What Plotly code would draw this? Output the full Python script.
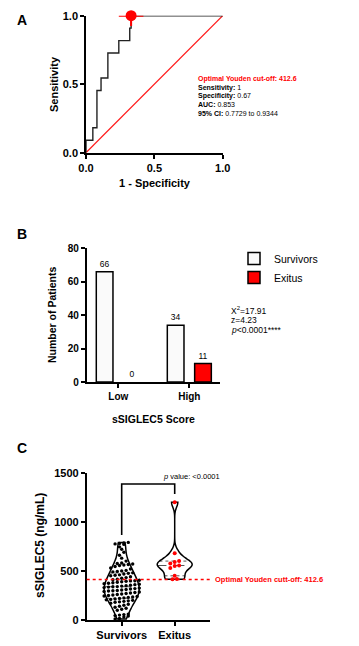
import numpy as np
import plotly.graph_objects as go

W, H = 359, 646
FONT = "Liberation Sans, Arial, sans-serif"


def px(x):
    return x / W


def py(y):
    return 1 - y / H


# ---------------- Panel A data (ROC) ----------------
roc_fpr = [0, 0, 0.05, 0.08, 0.11, 0.16, 0.24, 0.32, 0.33, 1.0]
roc_tpr = [0, 1 / 11, 2 / 11, 5 / 11, 6 / 11, 8 / 11, 9 / 11, 10 / 11, 1.0, 1.0]
chance_line = [0, 1]
youden_fpr = [0.33]
youden_tpr = [1.0]
roc_ticks = [0, 0.5, 1.0]
youden_cutoff = 412.6
sens_value = "1"
spec_value = "0.67"
auc_value = "0.853"
ci_low, ci_high = "0.7729", "0.9344"

# ---------------- Panel B data (bars) ----------------
score_cats = ["Low", "High"]
survivors_counts = [66, 34]
exitus_counts = [0, 11]
count_ticks = [0, 20, 40, 60, 80]
chi2_value = "17.91"
z_value = "4.23"
p_value_b = "&lt;0.0001****"

# ---------------- Panel C data (violins) ----------------
groups = ["Survivors", "Exitus"]
survivors_vals = [
    790, 785, 780, 775, 770,
    745, 720, 690, 660,
    630, 600, 580, 575, 570, 565, 560, 555,
    545, 530, 520, 505, 500, 495, 490, 480,
    475, 468, 460, 455, 450, 440, 432, 425,
    415,
    410, 405, 400, 398, 395, 390, 385, 380, 375, 370, 365, 360, 355, 350, 345, 340, 338, 335, 330,
    325, 320, 315, 310, 305, 300, 298, 295, 290, 285, 280, 275, 270, 265, 260, 255, 250,
    245, 240, 235, 230, 225, 220, 215, 210, 205, 200, 195, 190, 185, 180,
    170, 160, 150, 140, 130, 120, 110, 100,
    60, 55, 50, 45, 40, 30, 15, 10,
]
exitus_vals = [1200, 680, 600, 590, 575, 555, 550, 530, 450, 418, 415]
conc_ticks = [0, 500, 1000, 1500]
bracket_left_y = 865
bracket_top_y = 1385
bracket_right_y = 1283
p_value_c = "&lt;0.0001"

# ---------------- geometry ----------------
A_x = (86.0, 222.7)
A_y = (15.7, 152.7)
B_x = (86.7, 220.0)
B_y = (248.3, 382.0)
C_x = (86.7, 210.0)
C_y = (472.7, 620.0)

B_range = [-0.445, 1.432]
C_range = [-0.66, 1.666]
C_yrange = [0, 1500]
violin_width = 0.66

ppu_y_C = (C_y[1] - C_y[0]) / (C_yrange[1] - C_yrange[0])
ppu_x_C = (C_x[1] - C_x[0]) / (C_range[1] - C_range[0])


def bandwidth(v):
    v = np.asarray(v, float)
    q1, q3 = np.percentile(v, [25, 75])
    return 1.059 * min(v.std(ddof=1), (q3 - q1) / 1.349) * len(v) ** -0.2


def kde(v, bw, pts):
    v = np.asarray(v, float)
    pts = np.asarray(pts, float)
    z = (pts[:, None] - v[None, :]) / bw
    return np.exp(-0.5 * z ** 2).sum(axis=1)


def swarm(vals, center, row_px=4.0, dx_px=4.4):
    vals = np.asarray(vals, float)
    rows = np.floor(vals * ppu_y_C / row_px).astype(int)
    xs = np.zeros(len(vals))
    for r in np.unique(rows):
        idx = np.where(rows == r)[0]
        idx = idx[np.argsort(vals[idx])]
        n = len(idx)
        for k, i in enumerate(idx):
            xs[i] = center + (k - (n - 1) / 2) * dx_px / ppu_x_C
    return xs


def bar_points(cats, counts, w=1.5):
    # non-zero bars first so the legend swatch takes the outlined style;
    # the category axis keeps the original order
    order = sorted(range(len(counts)), key=lambda i: counts[i] == 0)
    xs = [cats[i] for i in order]
    ys = [counts[i] for i in order]
    widths = [w if c > 0 else 0 for c in ys]
    return xs, ys, widths


fig = go.Figure()

# ---- Panel A traces ----
fig.add_trace(go.Scatter(x=chance_line, y=chance_line, mode="lines",
                         line=dict(color="#ff1a1a", width=1.2),
                         xaxis="x", yaxis="y", showlegend=False, hoverinfo="skip"))
fig.add_trace(go.Scatter(x=roc_fpr, y=roc_tpr, mode="lines", line_shape="hv",
                         line=dict(color="#222222", width=1.4),
                         xaxis="x", yaxis="y", showlegend=False))
fig.add_trace(go.Scatter(x=youden_fpr, y=youden_tpr, mode="markers",
                         marker=dict(color="#ff0000", size=11),
                         error_x=dict(type="constant", value=0.09, color="#ff0000",
                                      thickness=2, width=0),
                         error_y=dict(type="constant", value=0.075, color="#ff0000",
                                      thickness=2, width=0),
                         cliponaxis=False, xaxis="x", yaxis="y", showlegend=False))

# ---- Panel B traces ----
for name, counts, fill in [("Survivors", survivors_counts, "#fafafa"),
                           ("Exitus", exitus_counts, "#ff0000")]:
    bx, by, bw_line = bar_points(score_cats, counts)
    fig.add_trace(go.Bar(x=bx, y=by, name=name,
                         marker=dict(color=fill, line=dict(color="black", width=bw_line)),
                         text=by, textposition="outside", constraintext="none",
                         textfont=dict(family=FONT, size=8.5, color="black"),
                         cliponaxis=False, xaxis="x2", yaxis="y2"))

# ---- Panel C traces ----
shapes = []
for gi, (vals, dot_color, dot_size) in enumerate(
        [(survivors_vals, "black", 3.4), (exitus_vals, "#ff0000", 4.0)]):
    bw = bandwidth(vals)
    fig.add_trace(go.Violin(x0=gi, y=vals, name=groups[gi], width=violin_width,
                            bandwidth=bw, spanmode="hard", points=False,
                            scalemode="width", line=dict(color="black", width=1.5),
                            fillcolor="rgba(255,255,255,0)",
                            box=dict(visible=False), meanline=dict(visible=False),
                            xaxis="x3", yaxis="y3", showlegend=False))
    grid = np.linspace(min(vals), max(vals), 400)
    dmax = kde(vals, bw, grid).max()
    qs = np.percentile(vals, [25, 50, 75], method="weibull")
    for qi, q in enumerate(qs):
        hw = violin_width / 2 * kde(vals, bw, [q])[0] / dmax
        shapes.append(dict(type="line", xref="x3", yref="y3", layer="below",
                           x0=gi - hw, x1=gi + hw, y0=q, y1=q,
                           line=dict(color="#555555", width=1,
                                     dash="dash" if qi == 1 else "dot")))
    fig.add_trace(go.Scatter(x=swarm(vals, gi), y=vals, mode="markers",
                             marker=dict(color=dot_color, size=dot_size),
                             xaxis="x3", yaxis="y3", showlegend=False, cliponaxis=False))

fig.add_trace(go.Scatter(x=[0, 0, 1, 1],
                         y=[bracket_left_y, bracket_top_y, bracket_top_y, bracket_right_y],
                         mode="lines", line=dict(color="black", width=1.6),
                         xaxis="x3", yaxis="y3", showlegend=False, hoverinfo="skip"))

shapes.append(dict(type="line", xref="paper", yref="y3", x0=px(C_x[0]), x1=px(211.5),
                   y0=youden_cutoff, y1=youden_cutoff,
                   line=dict(color="#ff0000", width=1.3, dash="dot")))

# ---------------- axes ----------------
axis_common = dict(showline=True, linecolor="black", linewidth=1.6, ticks="outside",
                   tickcolor="black", tickwidth=1.6, ticklen=4, showgrid=False,
                   zeroline=False, fixedrange=True, automargin=False,
                   tickfont=dict(family=FONT, size=11, color="black", weight="bold"))

fig.update_layout(
    xaxis=dict(axis_common, domain=[px(A_x[0]), px(A_x[1])], range=[0, 1], anchor="y",
               tickvals=roc_ticks, tickformat=".1f"),
    yaxis=dict(axis_common, domain=[py(A_y[1]), py(A_y[0])], range=[0, 1], anchor="x",
               tickvals=roc_ticks, tickformat=".1f"),
    xaxis2=dict(axis_common, domain=[px(B_x[0]), px(B_x[1])], range=B_range, anchor="y2",
                type="category", categoryorder="array", categoryarray=score_cats,
                tickfont=dict(family=FONT, size=10, color="black", weight="bold")),
    yaxis2=dict(axis_common, domain=[py(B_y[1]), py(B_y[0])], range=[0, 80], anchor="x2",
                tickvals=count_ticks,
                tickfont=dict(family=FONT, size=10, color="black", weight="bold")),
    xaxis3=dict(axis_common, domain=[px(C_x[0]), px(C_x[1])], range=C_range, anchor="y3",
                type="linear", tickvals=[0, 1], ticktext=groups),
    yaxis3=dict(axis_common, domain=[py(C_y[1]), py(C_y[0])], range=C_yrange, anchor="x3",
                tickvals=conc_ticks),
)

annotations = []


def ann(text, x, y, size, xanchor="center", yanchor="middle", color="black",
        angle=0, yref="paper"):
    annotations.append(dict(text=text, x=x, y=y, xref="paper", yref=yref,
                            xanchor=xanchor, yanchor=yanchor, showarrow=False,
                            textangle=angle,
                            font=dict(family=FONT, size=size, color=color)))


# panel letters
ann("<b>A</b>", px(22), py(20), 14)
ann("<b>B</b>", px(22), py(234), 14)
ann("<b>C</b>", px(22), py(448), 14)

# Panel A titles and stats
ann("<b>Sensitivity</b>", px(54), py(84), 11, angle=-90)
ann("<b>1 - Specificity</b>", px(155), py(183), 11)
ann(f"<b>Optimal Youden cut-off: {youden_cutoff}</b>", px(196), py(79), 7,
    xanchor="left", color="#ff0000")
ann(f"<b>Sensitivity:</b> {sens_value}", px(196), py(87.5), 7, xanchor="left")
ann(f"<b>Specificity:</b> {spec_value}", px(196), py(96), 7, xanchor="left")
ann(f"<b>AUC:</b> {auc_value}", px(196), py(104.5), 7, xanchor="left")
ann(f"<b>95% CI:</b> {ci_low} to {ci_high}", px(196), py(113), 7, xanchor="left")

# Panel B titles and stats
ann("<b>Number of Patients</b>", px(52), py(315), 10.5, angle=-90)
ann("<b>sSIGLEC5 Score</b>", px(153), py(419), 10.5)
ann(f"X<sup>2</sup>={chi2_value}", px(229), py(310), 8.5, xanchor="left")
ann(f"z={z_value}", px(229), py(320), 8.5, xanchor="left")
ann(f"<i>p</i>{p_value_b}", px(229), py(330), 8.5, xanchor="left")

# Panel C titles and labels
ann("<b>sSIGLEC5 (ng/mL)</b>", px(40), py(546), 12, angle=-90)
ann(f"<i>p</i> value: {p_value_c}", px(191), py(476.7), 7.5)
ann(f"<b>Optimal Youden cutt-off: {youden_cutoff}</b>", px(213), youden_cutoff, 7.5,
    xanchor="left", color="#ff0000", yref="y3")

fig.update_layout(
    template="none",
    width=W, height=H, autosize=False,
    margin=dict(l=0, r=0, t=0, b=0, pad=0),
    paper_bgcolor="white", plot_bgcolor="white",
    barmode="group", bargap=0.23, bargroupgap=0.39,
    showlegend=True,
    legend=dict(x=px(234), y=py(244), xanchor="left", yanchor="top",
                font=dict(family=FONT, size=10.5, color="black"),
                bgcolor="rgba(0,0,0,0)", tracegroupgap=0),
    annotations=annotations,
    shapes=shapes,
    font=dict(family=FONT, color="black"),
)

fig.write_html("out.html", config={"displayModeBar": False},
               post_script="document.body.style.margin='0';document.body.style.overflow='hidden';")
